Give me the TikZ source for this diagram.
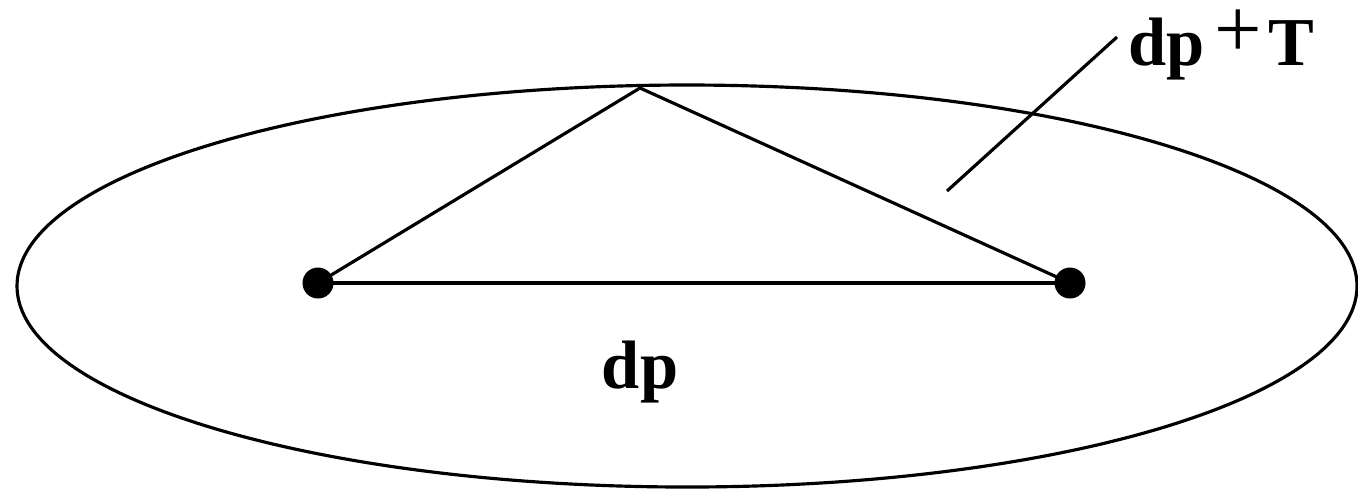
\documentclass[tikz,border=0pt]{standalone}
\usepackage{fontspec}
\setmainfont{Liberation Serif}
\usetikzlibrary{positioning,calc}
\begin{document}
\begin{tikzpicture}[
  edgeline/.style={draw=black, line width=0.9pt},
  dotnode/.style={circle, fill=black, inner sep=0pt, minimum size=0.31cm},
  lbl/.style={font=\fontsize{19.5}{22}\selectfont\bfseries, inner sep=0pt}
]
\useasboundingbox (0,0) rectangle (13.58,-4.90);
%% Outer ellipse
\draw[edgeline] (6.87,-2.86) ellipse [x radius=6.70, y radius=2.01];
%% Points and apex
\node[dotnode] (L) at (3.18,-2.83) {};
\node[dotnode] (R) at (10.70,-2.83) {};
\coordinate (A) at (6.40,-0.88);
\draw[edgeline] (L.center) -- (R.center);
\draw[edgeline] (L.center) -- (A) -- (R.center);
%% Labels
\node[lbl, anchor=base] (base) at (6.40,-3.88) {dp};
\node[lbl, anchor=base west] (path) at (11.28,-0.65)
  {dp\hspace{0.1cm}\raisebox{0.08cm}{\fontsize{24}{24}\selectfont\mdseries +}\hspace{0.06cm}T};
\coordinate (tip) at (9.47,-1.91);
\draw[edgeline] (tip) -- ($(path.base west)+(-0.11,0.28)$);
\end{tikzpicture}
\end{document}
